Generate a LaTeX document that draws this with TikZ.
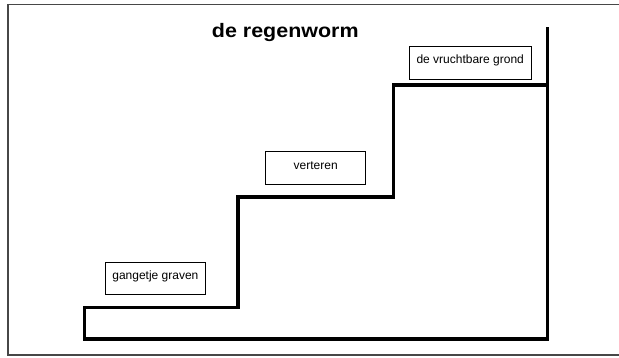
\documentclass[tikz,border=0pt]{standalone}
\usepackage{fontspec}
\usepackage{graphicx}
\setmainfont{Liberation Sans}
\begin{document}
\begin{tikzpicture}[x=1pt,y=-1pt,
  stair/.style={line width=3.4pt,line join=miter,line cap=rect},
  frame/.style={line width=1.2pt,draw=black!72},
  labelbox/.style={draw,line width=0.8pt,inner sep=0pt,
    minimum height=32.6pt,text height=8pt,text depth=6pt,
    font=\fontsize{12}{14}\selectfont},
  titletext/.style={font=\fontsize{19.5}{22}\selectfont\bfseries,inner sep=0pt,anchor=base}]
\useasboundingbox (0,0) rectangle (619,358);
% frame
\coordinate (ftl) at (8,4.7);
\coordinate (ftr) at (619,4.7);
\coordinate (fbl) at (8,355);
\coordinate (fbr) at (619,355);
\draw[frame] (ftr) -- (ftl) -- (fbl) -- (fbr);
% stairs
\coordinate (top) at (547.3,29);
\coordinate (br) at (547.3,339);
\coordinate (bl) at (84.5,339);
\coordinate (s0) at (84.5,307.5);
\coordinate (s1a) at (238,307.5);
\coordinate (s1b) at (238,197);
\coordinate (s2a) at (393.5,197);
\coordinate (s2b) at (393.5,85);
\coordinate (s3) at (547.3,85);
\draw[stair] (s3) -- (s2b) -- (s2a) -- (s1b) -- (s1a) -- (s0) -- (bl) -- (br) -- (top);
% title
\node[titletext] (title) at (285.3,37.3) {\scalebox{1.1}[1]{de regenworm}};
% boxes
\node[labelbox,minimum width=99.3pt] (b1) at (155.4,278.6) {gangetje graven};
\node[labelbox,minimum width=100pt] (b2) at (315.7,168.2) {verteren};
\node[labelbox,minimum width=121.7pt] (b3) at (470.2,63) {de vruchtbare grond};
\end{tikzpicture}
\end{document}
